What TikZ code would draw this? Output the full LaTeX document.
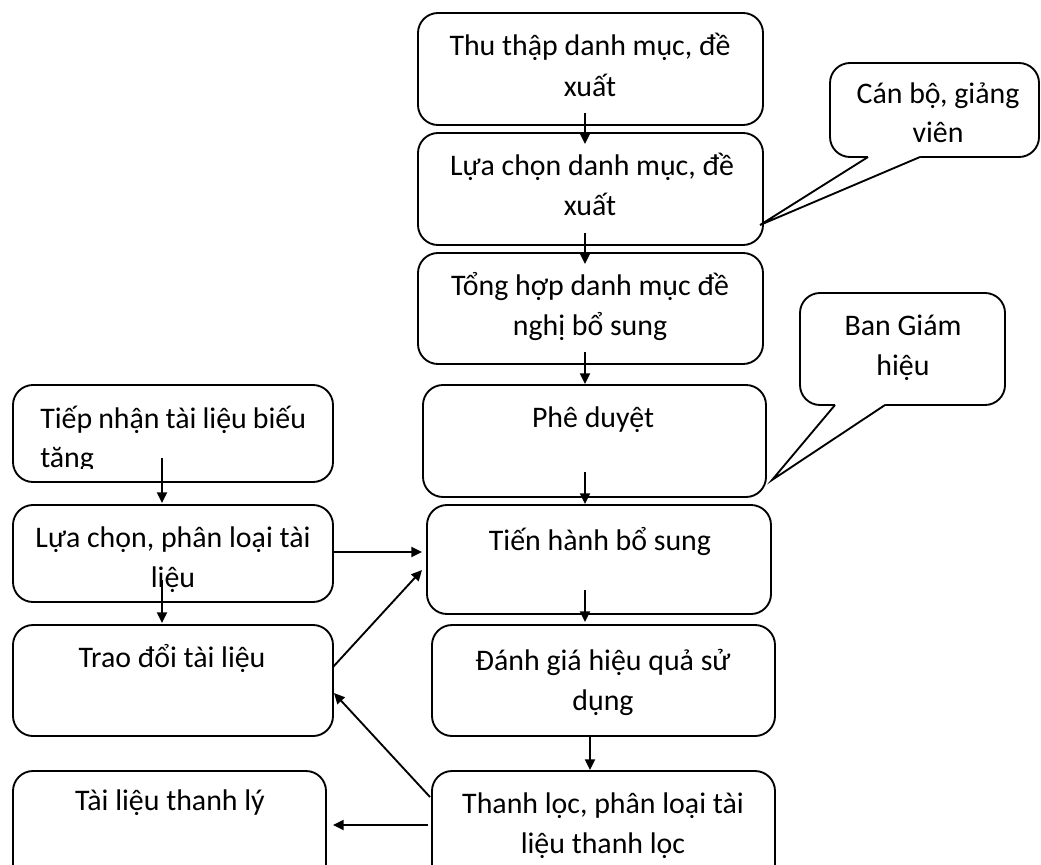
\documentclass[tikz,border=0pt]{standalone}
\usepackage{fontspec}
\setmainfont{Carlito}
\usetikzlibrary{arrows.meta}
\tikzset{
  box/.style={draw, line width=1.4pt, rounded corners=15pt, inner sep=0pt, fill=white},
  lbl/.style={anchor=base, inner sep=0pt, font=\fontsize{22.4}{26}\selectfont},
  arr/.style={line width=1.4pt, -{Triangle[length=8pt,width=7.5pt]}},
  ptr/.style={line width=1.4pt, line join=miter}
}
\newcommand{\mkbox}[5]{\node[box, minimum width={(#4-#2)*0.75pt}, minimum height={(#5-#3)*0.75pt}] (#1) at ({(#2+#4)/2},{(#3+#5)/2}) {};}
\begin{document}
\begin{tikzpicture}[x=0.75pt,y=-0.75pt]
\clip (0,0) rectangle (1041,864);
\fill[white] (0,0) rectangle (1041,864);
% right column
\mkbox{b1}{418}{13}{763}{125}
\mkbox{b2}{418}{133}{763}{245}
\mkbox{b3}{418}{253}{763}{364}
\mkbox{b4}{423}{385}{766}{497}
\mkbox{b5}{427}{505}{771}{614}
\mkbox{b6}{432}{625}{775}{736}
\mkbox{b7}{432}{771}{775}{900}
% left column
\mkbox{l1}{13}{385}{333}{482}
\mkbox{l2}{13}{505}{333}{602}
\mkbox{l3}{13}{625}{333}{736}
\mkbox{l4}{13}{771}{326}{900}
% callouts
\mkbox{c1}{830}{63}{1039}{157}
\fill[white] (868,152) -- (868,157) -- (760,225) -- (920,157) -- (920,152) -- cycle;
\draw[ptr] (868,157) -- (760,225) -- (920,157);
\mkbox{c2}{800}{293}{1005}{405}
\fill[white] (835,400) -- (835,405) -- (772,480) -- (885,405) -- (885,400) -- cycle;
\draw[ptr] (835,405) -- (772,480) -- (885,405);
% texts
\node[lbl] (t1a) at (590,55) {Thu thập danh mục, đề};
\node[lbl] (t1b) at (590,96) {xuất};
\node[lbl] (t2a) at (592,175) {Lựa chọn danh mục, đề};
\node[lbl] (t2b) at (590,215) {xuất};
\node[lbl] (t3a) at (590,295) {Tổng hợp danh mục đề};
\node[lbl] (t3b) at (590,335) {nghị bổ sung};
\node[lbl] (t4) at (593,427) {Phê duyệt};
\node[lbl] (t5) at (600,550) {Tiến hành bổ sung};
\node[lbl] (t6a) at (603,670) {Đánh giá hiệu quả sử};
\node[lbl] (t6b) at (603,710) {dụng};
\node[lbl] (t7a) at (603,813) {Thanh lọc, phân loại tài};
\node[lbl] (t7b) at (603,853) {liệu thanh lọc};
\begin{scope}
\clip (20,395) rectangle (330,468);
\node[lbl, anchor=base west] (t8a) at (40,428) {Tiếp\hspace{-0.5pt} nhận\hspace{-0.5pt} tài\hspace{-0.5pt} liệu\hspace{-0.5pt} biếu};
\node[lbl, anchor=base west] (t8b) at (40,467) {tăng};
\end{scope}
\node[lbl] (t9a) at (173,547) {Lựa chọn, phân loại tài};
\node[lbl] (t9b) at (173,587) {liệu};
\node[lbl] (t10) at (172,667) {Trao đổi tài liệu};
\node[lbl] (t11) at (170,810) {Tài liệu thanh lý};
\node[lbl] (t12a) at (938,103) {Cán bộ, giảng};
\node[lbl] (t12b) at (938,142) {viên};
\node[lbl] (t13a) at (903,335) {Ban Giám};
\node[lbl] (t13b) at (903,375) {hiệu};
% arrow end points
\coordinate (a1s) at (585,113); \coordinate (a1e) at (585,144);
\coordinate (a2s) at (585,233); \coordinate (a2e) at (585,264);
\coordinate (a3s) at (585,352); \coordinate (a3e) at (585,384);
\coordinate (a4s) at (585,472); \coordinate (a4e) at (585,504);
\coordinate (a5s) at (585,590); \coordinate (a5e) at (585,622);
\coordinate (a6s) at (590,736); \coordinate (a6e) at (590,770);
\coordinate (a7s) at (162,458); \coordinate (a7e) at (162,503);
\coordinate (a8s) at (162,580); \coordinate (a8e) at (162,623);
\coordinate (a9s) at (333,552); \coordinate (a9e) at (422,552);
\coordinate (a10s) at (333,667); \coordinate (a10e) at (422,570);
\coordinate (a11s) at (430,797); \coordinate (a11e) at (334,693);
\coordinate (a12s) at (428,825); \coordinate (a12e) at (333,825);
\foreach \i in {1,...,12} \draw[arr] (a\i s) -- (a\i e);
\end{tikzpicture}
\end{document}
